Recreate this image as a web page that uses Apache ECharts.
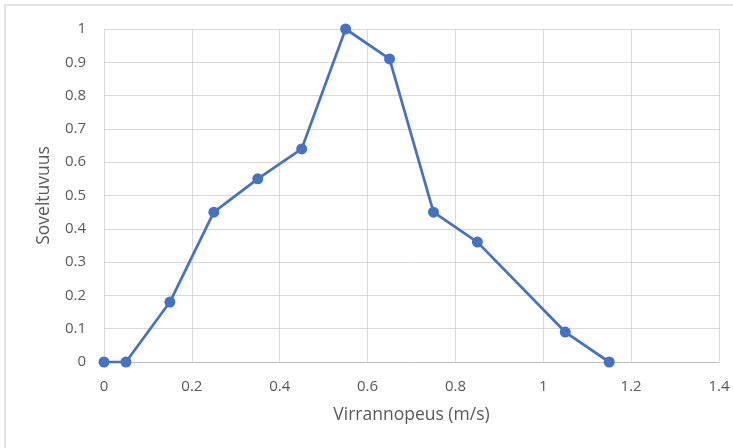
<!DOCTYPE html>
<html><head><meta charset="utf-8">
<script src="https://cdn.jsdelivr.net/npm/echarts@6/dist/echarts.min.js"></script>
<style>html,body{margin:0;padding:0;background:#fff}#c{width:733px;height:448px}</style>
</head><body><div id="c"></div>
<script>
const xValues = [0, 0.05, 0.15, 0.25, 0.35, 0.45, 0.55, 0.65, 0.75, 0.85, 1.05, 1.15];
const yValues = [0, 0, 0.18, 0.45, 0.55, 0.64, 1, 0.91, 0.45, 0.36, 0.09, 0];
const xTitle = 'Virrannopeus (m/s)';
const yTitle = 'Soveltuvuus';

const chart = echarts.init(document.getElementById('c'));
const font = '"Open Sans", "Noto Sans", sans-serif';
chart.setOption({
  animation: false,
  graphic: [{type:'rect', shape:{x:5,y:5,width:740,height:460}, style:{fill:'none', stroke:'#d9d9d9', lineWidth:1.5}}],
  grid: {left:104, right:14, top:29, bottom:86},
  xAxis: {
    type:'value', min:0, max:1.4, interval:0.2,
    name:xTitle, nameLocation:'middle', nameGap:44,
    nameTextStyle:{color:'#595959', fontSize:17.5, fontFamily:font},
    axisLine:{show:true, lineStyle:{color:'#bfbfbf', width:1}},
    axisTick:{show:false},
    axisLabel:{color:'#595959', fontSize:15, fontFamily:font, margin:17,
      formatter: v => String(Math.round(v*10)/10)},
    splitLine:{show:true, lineStyle:{color:'#d9d9d9', width:1}}
  },
  yAxis: {
    type:'value', min:0, max:1, interval:0.1,
    name:yTitle, nameLocation:'middle', nameGap:51, nameRotate:90,
    nameTextStyle:{color:'#595959', fontSize:17.5, fontFamily:font},
    axisLine:{show:false}, axisTick:{show:false},
    axisLabel:{color:'#595959', fontSize:15, fontFamily:font, margin:18,
      formatter: v => String(Math.round(v*10)/10)},
    splitLine:{show:true, lineStyle:{color:'#d9d9d9', width:1}}
  },
  series: [{
    type:'line',
    data: xValues.map((x,i)=>[x, yValues[i]]),
    symbol:'circle', symbolSize:11,
    lineStyle:{color:'#4472c4', width:2.75},
    itemStyle:{color:'#4472c4'}
  }]
});
</script></body></html>
